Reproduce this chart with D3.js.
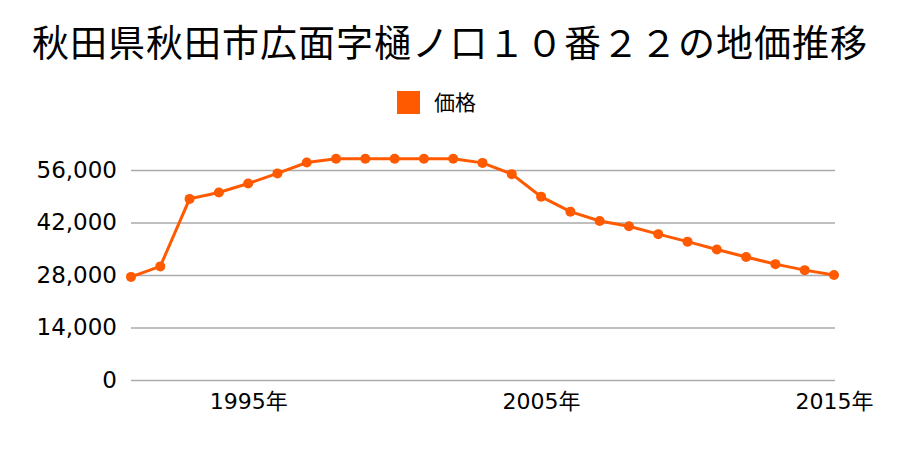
<!DOCTYPE html>
<html><head><meta charset="utf-8">
<script src="https://cdn.jsdelivr.net/npm/d3@7"></script>
<style>body{margin:0;background:#fff}svg{display:block}</style>
</head><body>
<script>
const title = "秋田県秋田市広面字樋ノ口１０番２２の地価推移";
const seriesName = "価格";
const years = [1991,1992,1993,1994,1995,1996,1997,1998,1999,2000,2001,2002,2003,2004,2005,2006,2007,2008,2009,2010,2011,2012,2013,2014,2015];
const prices = [27500,30300,48300,50000,52400,55100,58000,59000,59000,59000,59000,59000,57900,54900,48900,44900,42400,41000,38900,36900,34800,32800,30900,29300,28000];
const yTicks = [0,14000,28000,42000,56000];
const xTicks = [1995,2005,2015];

const W = 900, H = 450;
const color = "#ff5a00";
const svg = d3.select("body").append("svg").attr("width", W).attr("height", H);
const x = d3.scaleLinear().domain([1991, 2015]).range([131, 834]);
const y = d3.scaleLinear().domain([0, 56000]).range([380, 170]);

svg.append("text").attr("x", 450).attr("y", 57).attr("text-anchor", "middle")
  .attr("font-family", "'Noto Sans CJK JP', sans-serif").attr("font-size", 37)
  .attr("letter-spacing", 1).attr("fill", "#000").text(title);

// legend
svg.append("rect").attr("x", 397).attr("y", 91).attr("width", 23).attr("height", 23).attr("fill", color);
svg.append("text").attr("x", 434).attr("y", 110).attr("font-family", "'Noto Sans CJK JP', sans-serif")
  .attr("font-size", 21).attr("fill", "#000").text(seriesName);

// grid
const yAxis = d3.axisLeft(y).tickValues(yTicks).tickSize(-(834 - 131 + 1)).tickPadding(14)
  .tickFormat(d3.format(","));
const gy = svg.append("g").attr("transform", "translate(131,0)").call(yAxis);
gy.select(".domain").remove();
gy.selectAll(".tick line").attr("stroke", "#aaa").attr("stroke-width", 1.3);
gy.selectAll(".tick text").attr("font-family", "'DejaVu Sans', sans-serif").attr("font-size", 23).attr("fill", "#000");

const xAxis = d3.axisBottom(x).tickValues(xTicks).tickSize(0).tickPadding(13).tickFormat(d => d + "年");
const gx = svg.append("g").attr("transform", "translate(0,380)").call(xAxis);
gx.select(".domain").remove();
gx.selectAll(".tick text").attr("font-family", "'DejaVu Sans', 'Noto Sans CJK JP', sans-serif").attr("font-size", 22).attr("fill", "#000");

const line = d3.line().x((d, i) => x(years[i])).y(d => y(d));
svg.append("path").datum(prices).attr("d", line).attr("fill", "none")
  .attr("stroke", color).attr("stroke-width", 3);
svg.selectAll("circle.pt").data(prices).enter().append("circle").attr("class", "pt")
  .attr("cx", (d, i) => x(years[i])).attr("cy", d => y(d)).attr("r", 5).attr("fill", color);
</script>
</body></html>
